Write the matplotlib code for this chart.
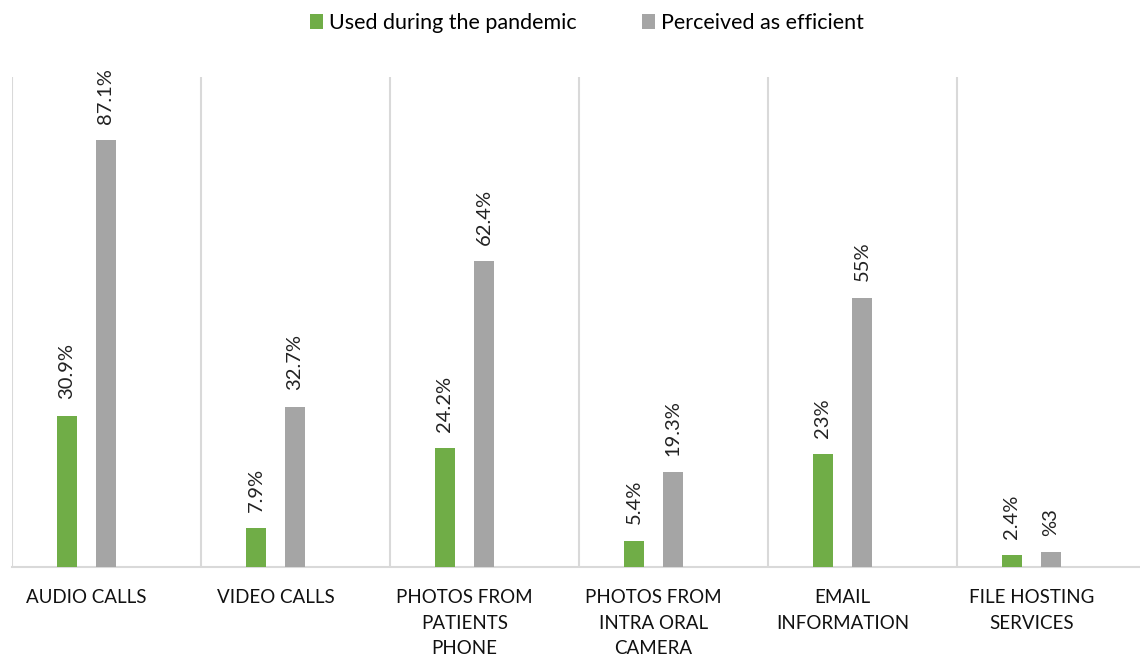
import matplotlib
matplotlib.use('Agg')
import matplotlib.pyplot as plt
import numpy as np

categories = ['AUDIO CALLS', 'VIDEO CALLS', 'PHOTOS FROM\nPATIENTS\nPHONE',
              'PHOTOS FROM\nINTRA ORAL\nCAMERA', 'EMAIL\nINFORMATION',
              'FILE HOSTING\nSERVICES']
used = [30.9, 7.9, 24.2, 5.4, 23, 2.4]
efficient = [87.1, 32.7, 62.4, 19.3, 55, 3]
used_labels = ['30.9%', '7.9%', '24.2%', '5.4%', '23%', '2.4%']
efficient_labels = ['87.1%', '32.7%', '62.4%', '19.3%', '55%', '%3']

GREEN = '#70AD47'
GRAY = '#A5A5A5'
GRID = '#D9D9D9'

plt.rcParams['font.family'] = ['Lato', 'DejaVu Sans']

fig = plt.figure(figsize=(11.4, 6.57), dpi=100)
# axes runs a little past the right edge, so the last divider is cut off
ax = fig.add_axes([12 / 1140, (657 - 567) / 657, 1134 / 1140, 490 / 657])

x = np.arange(len(categories))
w = 0.106
off = 0.103
b1 = ax.bar(x - off, used, w, color=GREEN, label='Used during the pandemic', zorder=3)
b2 = ax.bar(x + off, efficient, w, color=GRAY, label='Perceived as efficient', zorder=3)

for bars, labels in ((b1, used_labels), (b2, efficient_labels)):
    for rect, txt in zip(bars, labels):
        ax.annotate(txt, (rect.get_x() + rect.get_width() / 2, rect.get_height()),
                    xytext=(0, 12), textcoords='offset points', rotation=90,
                    ha='center', va='bottom', fontsize=14.5, color='#222222')

left = -0.394
ax.set_xlim(left, left + len(categories))
ax.set_ylim(0, 100)

# category dividers
for i in range(len(categories) + 1):
    ax.axvline(left + i, color=GRID, lw=1.5, zorder=1)

for s in ('top', 'right', 'left'):
    ax.spines[s].set_visible(False)
ax.spines['bottom'].set_color(GRID)
ax.spines['bottom'].set_linewidth(1.5)
ax.set_yticks([])
ax.set_xticks(x)
ax.set_xticklabels(categories, fontsize=13.5, color='#111111', linespacing=1.6)
ax.tick_params(axis='x', length=0, pad=16)

fig.legend(handles=[b1, b2], loc='center', bbox_to_anchor=(587 / 1140, 1 - 23 / 657),
           ncol=2, frameon=False, fontsize=15.5, handlelength=0.6, handleheight=0.7,
           handletextpad=0.3, columnspacing=3.0)

fig.savefig('out.png', dpi=100)
